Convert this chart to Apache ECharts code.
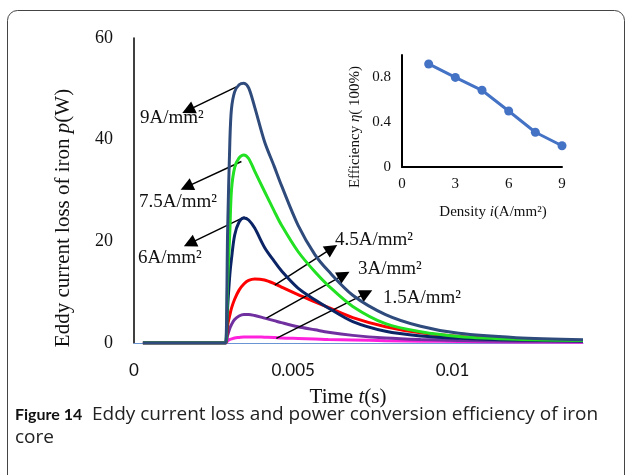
<!DOCTYPE html>
<html><head><meta charset="utf-8">
<script src="https://cdn.jsdelivr.net/npm/echarts@6/dist/echarts.min.js"></script>
<style>html,body{margin:0;padding:0;background:#fff;}#c{width:627px;height:475px;}</style>
</head><body><div id="c"></div>
<script>
// ---- data ----
const T = [0.00028, 0.00282, 0.00288, 0.00294, 0.00301, 0.00306, 0.00316, 0.0033, 0.00345, 0.0036, 0.00379, 0.0041, 0.0044, 0.00463, 0.00515, 0.00568, 0.0061, 0.00687, 0.0079, 0.009, 0.0102, 0.012, 0.0141];
const P9  = [0, 0, 0, 22, 39.6, 46, 49.4, 50.8, 51.1, 50.2, 46.4, 39.6, 34.8, 31.0, 23.2, 17.4, 14.2, 9.4, 5.6, 3.3, 1.9, 1.05, 0.65];
const P75 = [0, 0, 0, 12, 22, 30, 34.5, 36.4, 37.0, 36.3, 33.8, 29.8, 26.0, 23.2, 18.0, 14.0, 11.3, 7.2, 3.8, 2.2, 1.3, 0.75, 0.5];
const P6  = [0, 0, 0, 7, 13.5, 16.5, 21.2, 23.8, 24.6, 24.2, 22.6, 18.8, 16.1, 14.2, 10.8, 8.5, 6.9, 4.2, 2.3, 1.4, 0.95, 0.6, 0.4];
const P45 = [0, 0, 0, 3.5, 5.5, 6.8, 8.6, 10.4, 11.6, 12.3, 12.6, 12.4, 11.7, 11.0, 9.5, 8.1, 7.0, 5.0, 3.2, 2.0, 1.3, 0.8, 0.5];
const P3  = [0, 0, 0, 1.5, 2.9, 3.6, 4.6, 5.3, 5.6, 5.6, 5.4, 4.9, 4.4, 4.0, 3.2, 2.6, 2.1, 1.5, 1.0, 0.7, 0.5, 0.35, 0.3];
const P15 = [0, 0, 0, 0.4, 0.7, 0.8, 1.0, 1.1, 1.2, 1.2, 1.2, 1.15, 1.1, 1.0, 0.9, 0.8, 0.7, 0.6, 0.45, 0.35, 0.3, 0.2, 0.15];
const curveNames = ['1.5A/mm²', '3A/mm²', '4.5A/mm²', '6A/mm²', '7.5A/mm²', '9A/mm²'];
const density = [1.5, 3, 4.5, 6, 7.5, 9];
const efficiency = [0.92, 0.80, 0.685, 0.50, 0.31, 0.19];
const mainYTicks = [0, 20, 40, 60];
const mainXTicks = ['0', '0.005', '0.01'];

// arrows: [start(t,p), tip(t,p)] in data space
const arrows = [
  [[0.003216, 50.4], [0.00170, 45.8]],
  [[0.003373, 35.7], [0.00165, 30.7]],
  [[0.003477, 24.8], [0.00175, 19.6]],
  [[0.00442, 11.4], [0.00621, 18.6]],
  [[0.00416, 4.9], [0.00659, 13.4]],
  [[0.00447, 0.9], [0.00730, 9.8]]
];

const serif = '"Liberation Serif","Times New Roman",serif';
const sans = 'Lato, "Open Sans", sans-serif';
const sans2 = '"Open Sans", sans-serif';
const colors = ['#ff22dd', '#7030a0', '#ff0000', '#0b2466', '#22e022', '#2f4b7c'];
const curves = [P15, P3, P45, P6, P75, P9];

const chart = echarts.init(document.getElementById('c'), null, {renderer: 'canvas'});

const series = curves.map((arr, k) => ({
  type: 'line', name: curveNames[k], xAxisIndex: 0, yAxisIndex: 0,
  data: T.map((t, i) => [t, arr[i]]),
  showSymbol: false, smooth: 0.3,
  lineStyle: {color: colors[k], width: 3}, itemStyle: {color: colors[k]},
  z: 2 + k, animation: false, silent: true
}));

series.push({
  type: 'line', xAxisIndex: 0, yAxisIndex: 0, data: [], silent: true, animation: false,
  markLine: {
    silent: true, animation: false, symbol: ['none', 'triangle'], symbolSize: [13, 13],
    label: {show: false},
    lineStyle: {color: '#000', width: 1.5, type: 'solid'},
    data: arrows.map(a => [{coord: a[0]}, {coord: a[1]}])
  }, z: 20
});

series.push({
  type: 'line', xAxisIndex: 1, yAxisIndex: 1,
  data: density.map((d, i) => [d, efficiency[i]]),
  symbol: 'circle', symbolSize: 9, showSymbol: true,
  lineStyle: {color: '#4472c4', width: 3}, itemStyle: {color: '#4472c4'},
  animation: false, silent: true, z: 10
});

const labelStyle = {font: '19px ' + serif, fill: '#111', verticalAlign: 'middle', align: 'left'};
const annot = [
  ['9A/mm²', 140, 118], ['7.5A/mm²', 139, 202], ['6A/mm²', 138, 258],
  ['4.5A/mm²', 335, 240], ['3A/mm²', 358, 269], ['1.5A/mm²', 383, 298]
];

chart.setOption({
  backgroundColor: '#fff',
  animation: false,
  grid: [
    {left: 134, top: 38, width: 449, height: 305},
    {left: 402, top: 55, width: 160, height: 112}
  ],
  xAxis: [
    {type: 'value', gridIndex: 0, min: 0, max: 0.0141, interval: 0.005,
     axisLine: {show: true, lineStyle: {color: '#6a95d4', width: 1}}, axisTick: {show: false}, splitLine: {show: false},
     axisLabel: {showMaxLabel: false, margin: 19, color: '#111', fontFamily: sans, fontSize: 17,
       formatter: v => mainXTicks[Math.round(v / 0.005)] || ''}},
    {type: 'value', gridIndex: 1, min: 0, max: 9, interval: 3,
     axisLine: {show: true, onZero: false, lineStyle: {color: '#000', width: 2}}, axisTick: {show: false}, splitLine: {show: false},
     axisLabel: {margin: 10, color: '#111', fontFamily: serif, fontSize: 15}}
  ],
  yAxis: [
    {type: 'value', gridIndex: 0, min: 0, max: 60, interval: 20,
     axisLine: {show: true, onZero: false, lineStyle: {color: '#000', width: 1.5}}, axisTick: {show: false}, splitLine: {show: false},
     axisLabel: {margin: 21, color: '#111', fontFamily: serif, fontSize: 18,
       formatter: v => String(mainYTicks[Math.round(v / 20)])}},
    {type: 'value', gridIndex: 1, min: 0, max: 1, interval: 0.4,
     axisLine: {show: true, onZero: false, lineStyle: {color: '#000', width: 2}}, axisTick: {show: false}, splitLine: {show: false},
     axisLabel: {showMaxLabel: false, margin: 11, color: '#111', fontFamily: serif, fontSize: 15,
       formatter: v => (v === 0 ? '0' : v.toFixed(1))}}
  ],
  series: series,
  graphic: [
    {type: 'rect', shape: {x: 7.5, y: 10.5, width: 617, height: 520, r: 10}, style: {fill: 'none', stroke: '#444', lineWidth: 1}, z: 0, silent: true},
    {type: 'text', x: 63, y: 218, rotation: Math.PI / 2, silent: true,
     style: {text: '{n|Eddy current loss of iron }{i|p}{n|(W)}', align: 'center', verticalAlign: 'middle',
       rich: {n: {font: '21px ' + serif, fill: '#111'}, i: {font: 'italic 21px ' + serif, fill: '#111'}}}},
    {type: 'text', x: 348, y: 397, silent: true,
     style: {text: '{n|Time }{i|t}{n|(s)}', align: 'center', verticalAlign: 'middle',
       rich: {n: {font: '21px ' + serif, fill: '#111'}, i: {font: 'italic 21px ' + serif, fill: '#111'}}}},
    {type: 'text', x: 355, y: 127, rotation: Math.PI / 2, silent: true,
     style: {text: '{n|Efficiency }{i|η}{n|( 100%)}', align: 'center', verticalAlign: 'middle',
       rich: {n: {font: '15px ' + serif, fill: '#111'}, i: {font: 'italic 15px ' + serif, fill: '#111'}}}},
    {type: 'text', x: 493, y: 212, silent: true,
     style: {text: '{n|Density }{i|i}{n|(A/mm²)}', align: 'center', verticalAlign: 'middle',
       rich: {n: {font: '15px ' + serif, fill: '#111'}, i: {font: 'italic 15px ' + serif, fill: '#111'}}}},
    ...annot.map(a => ({type: 'text', x: a[1], y: a[2], silent: true, style: Object.assign({text: a[0]}, labelStyle)})),
    {type: 'text', x: 15, y: 415, silent: true,
     style: {text: 'Figure 14', verticalAlign: 'middle', align: 'left', font: 'bold 16px ' + sans, fill: '#111'}},
    {type: 'text', x: 92, y: 415, silent: true,
     style: {text: 'Eddy current loss and power conversion efficiency of iron', verticalAlign: 'middle', align: 'left', font: '19px ' + sans2, fill: '#222'}},
    {type: 'text', x: 15, y: 438, silent: true,
     style: {text: 'core', verticalAlign: 'middle', align: 'left', font: '19px ' + sans2, fill: '#222'}}
  ]
});
</script>
</body></html>
